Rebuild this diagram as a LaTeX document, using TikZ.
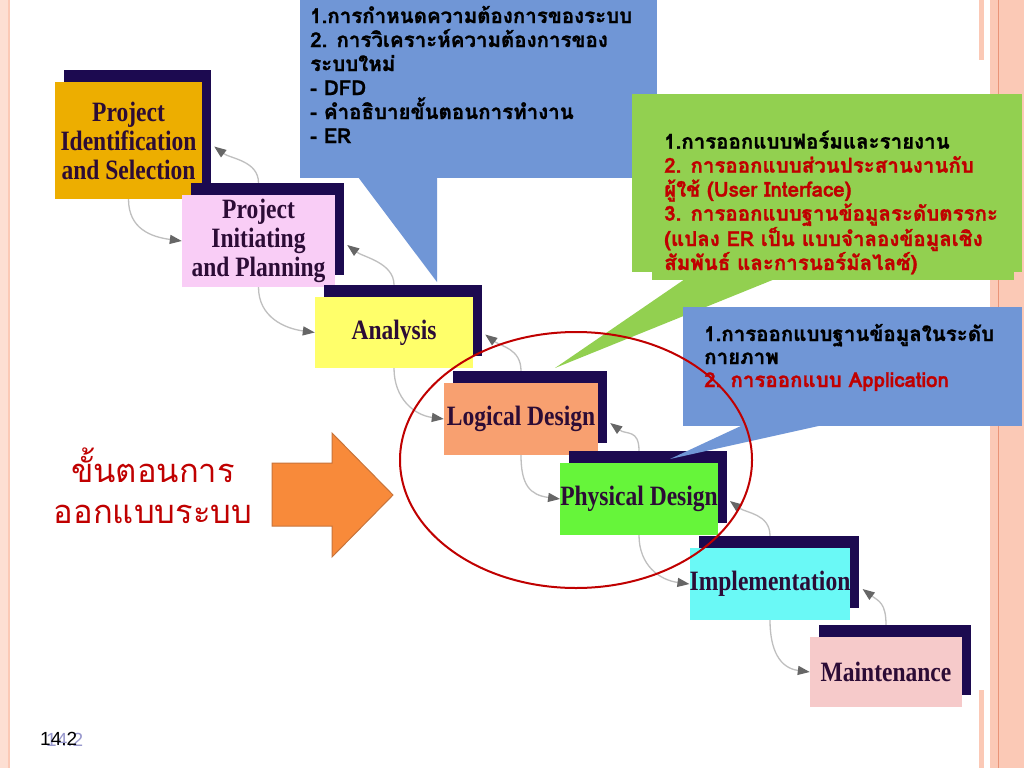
\documentclass[tikz,border=0pt]{standalone}
\usepackage{fontspec}
\usepackage{tikz}
\usetikzlibrary{shapes,arrows.meta,shadows}
\newfontfamily\thaifont[Script=Thai, BoldFeatures={FakeBold=1.2}]{Loma}
\newfontfamily\stagefont[FakeStretch=0.84]{Liberation Serif}
\newfontfamily\numfont{Liberation Sans}
\definecolor{navy}{HTML}{1C0A50}
\definecolor{stagetxt}{HTML}{2C0C36}
\definecolor{calblue}{HTML}{7096D6}
\definecolor{calgreen}{HTML}{92D050}
\definecolor{calred}{HTML}{C00000}
\definecolor{arrowfill}{HTML}{F88A3A}
\definecolor{arrowline}{HTML}{C8743A}
\definecolor{edgepink}{HTML}{FBC9B6}
\definecolor{edgeline}{HTML}{E99478}
\definecolor{idcol}{HTML}{EDAE00}
\definecolor{initcol}{HTML}{F9CDF6}
\definecolor{anacol}{HTML}{FFFF6A}
\definecolor{logcol}{HTML}{F8A070}
\definecolor{phycol}{HTML}{66F53A}
\definecolor{impcol}{HTML}{6AF9F6}
\definecolor{maincol}{HTML}{F6CACA}

\begin{document}
\begin{tikzpicture}[x=1pt,y=-1pt,
    stage/.style={rectangle, inner sep=0pt, align=center, text=stagetxt,
        font=\stagefont\bfseries\fontsize{28}{29}\selectfont,
        general shadow={fill=navy, shadow xshift=9pt, shadow yshift=12pt}},
    flow/.style={draw=black!25, line width=1.3pt,
        -{Triangle[length=12pt,width=9pt,color=black!60]}},
    note/.style={anchor=base west, align=left, inner sep=0pt,
        font=\thaifont\bfseries\fontsize{20.5}{24}\selectfont}]
    \useasboundingbox (0,0) rectangle (1024,768);
    \fill[white] (0,0) rectangle (1024,768);

    % Draw the slide edges
    \fill[edgepink!60] (0,0) rectangle (10,768);
    \draw[edgepink, line width=2pt] (9,0) -- (9,768);
    \fill[edgepink] (990,0) rectangle (1024,768);
    \draw[edgeline, line width=1.2pt] (998.5,0) -- (998.5,768);
    \fill[edgepink] (979,0) rectangle (984,60);
    \fill[edgepink] (979,690) rectangle (984,768);

    % Draw the stages
    \node[stage, fill=idcol, minimum width=147pt, minimum height=117pt] (ident) at (128.5,140.5) {Project\\Identification\\and Selection};
    \node[stage, fill=initcol, minimum width=153pt, minimum height=92pt] (init) at (258.5,241) {Project\\Initiating\\and Planning};
    \node[stage, fill=anacol, minimum width=158pt, minimum height=71pt] (ana) at (394,332.5) {Analysis};
    \node[stage, fill=logcol, minimum width=154pt, minimum height=72pt] (logic) at (521,419) {Logical Design};
    \node[stage, fill=phycol, minimum width=156pt, minimum height=72pt] (phys) at (639,499) {Physical Design};
    \node[stage, fill=impcol, minimum width=156pt, minimum height=72pt] (impl) at (770,584) {Implementation};
    \node[stage, fill=maincol, minimum width=152pt, minimum height=70pt] (maint) at (886,672) {Maintenance};

    % Draw the arrows down
    \draw[flow] (ident.south) .. controls +(0,30) and +(-30,-4) .. (init.west);
    \draw[flow] (init.south) .. controls +(0,30) and +(-30,-4) .. (ana.west);
    \draw[flow] (ana.south) .. controls +(0,30) and +(-30,-4) .. (logic.west);
    \draw[flow] (logic.south) .. controls +(0,30) and +(-30,-4) .. (phys.west);
    \draw[flow] (phys.south) .. controls +(0,30) and +(-30,-4) .. (impl.west);
    \draw[flow] (impl.south) .. controls +(0,30) and +(-30,-4) .. (maint.west);

    % Draw the arrows back
    \draw[flow] ([yshift=12pt]init.north) .. controls +(0,-22) and +(16,12) .. ([xshift=12pt,yshift=-6pt]ident.east);
    \draw[flow] ([yshift=12pt]ana.north) .. controls +(0,-22) and +(16,12) .. ([xshift=12pt,yshift=-4pt]init.east);
    \draw[flow] ([yshift=12pt]logic.north) .. controls +(0,-22) and +(16,12) .. ([xshift=12pt,yshift=-2pt]ana.east);
    \draw[flow] ([yshift=12pt]phys.north) .. controls +(0,-22) and +(16,12) .. ([xshift=12pt,yshift=-4pt]logic.east);
    \draw[flow] ([yshift=12pt]impl.north) .. controls +(0,-22) and +(16,12) .. ([xshift=12pt,yshift=-2pt]phys.east);
    \draw[flow] ([yshift=12pt]maint.north) .. controls +(0,-22) and +(16,12) .. ([xshift=12pt,yshift=-5pt]impl.east);

    % Draw the callouts
    \fill[calblue] (300,0) rectangle (657,178);
    \fill[calblue] (358,177) -- (437,282) -- (437,177) -- cycle;
    \fill[calgreen] (652,100) rectangle (1014,280);
    \fill[calgreen] (632,94) rectangle (1022,272);
    \fill[calgreen] (685,279) -- (555,368) -- (775,279) -- cycle;
    \fill[calblue] (683,307) rectangle (1022,426);
    \fill[calblue] (743,425) -- (670,459) -- (823,425) -- cycle;

    \node[note] (reqtext) at (310,143) {1.การกำหนดความต้องการของระบบ\\2. การวิเคราะห์ความต้องการของ\\ระบบใหม่\\- DFD\\- คำอธิบายขั้นตอนการทำงาน\\- ER};
    \node[note] (logtext) at (664,270) {1.การออกแบบฟอร์มและรายงาน\\\color{calred}2. การออกแบบส่วนประสานงานกับ\\\color{calred}ผู้ใช้ (User Interface)\\\color{calred}3. การออกแบบฐานข้อมูลระดับตรรกะ\\\color{calred}(แปลง ER เป็น แบบจำลองข้อมูลเชิง\\\color{calred}สัมพันธ์ และการนอร์มัลไลซ์)};
    \node[note, font=\thaifont\bfseries\fontsize{20.5}{23}\selectfont] (phytext) at (704,387) {1.การออกแบบฐานข้อมูลในระดับ\\กายภาพ\\\color{calred}2. การออกแบบ Application};

    % Draw the big arrow and its label
    \filldraw[fill=arrowfill, draw=arrowline, line width=1pt] (272,463) -- (332,463) -- (332,433) -- (393,495) -- (332,557) -- (332,526) -- (272,526) -- cycle;
    \node[anchor=base, align=center, inner sep=0pt, text=calred, font=\thaifont\fontsize{32.7}{41}\selectfont] (steps) at (153,523) {ขั้นตอนการ\\ออกแบบระบบ};

    % Draw the ring round the design stages
    \draw[calred, line width=2pt] (576,460) ellipse [x radius=176pt, y radius=128pt];

    % Slide number
    \node[anchor=base west, inner sep=0pt, text=blue!35!gray!60, font=\numfont\fontsize{19}{19}\selectfont] (numghost) at (46,746) {14.2};
    \node[anchor=base west, inner sep=0pt, font=\numfont\fontsize{19}{19}\selectfont] (num) at (40,745) {14.2};
\end{tikzpicture}
\end{document}
